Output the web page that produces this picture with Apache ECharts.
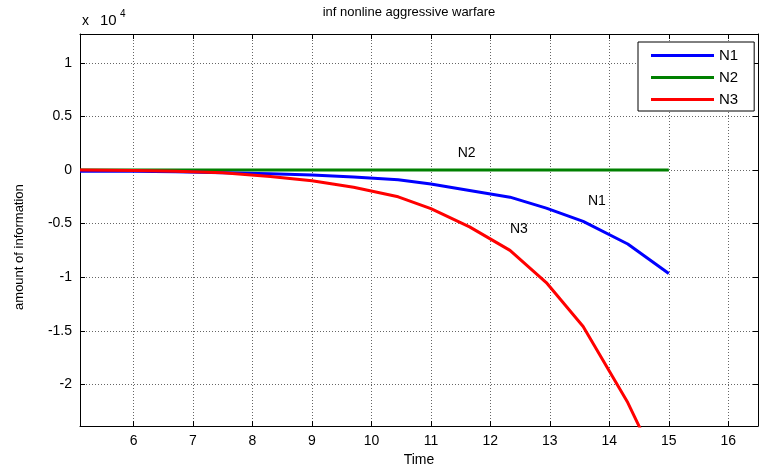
<!DOCTYPE html>
<html>
<head>
<meta charset="utf-8">
<script src="https://cdn.jsdelivr.net/npm/echarts@6/dist/echarts.min.js"></script>
<style>
  html, body { margin: 0; padding: 0; background: #fff; }
  #chart { width: 759px; height: 472px; }
</style>
</head>
<body>
<div id="chart"></div>
<script>
// time steps
const time = [5.1, 6.0, 6.7, 7.5, 8.3, 9.0, 9.7, 10.45, 11.0, 11.65, 12.33, 12.94, 13.56, 14.31, 15.0];
// amount of information
const n1 = [-120, -120, -150, -250, -350, -450, -650, -900, -1300, -1900, -2530, -3550, -4790, -6900, -9660];
const n2 = [0, 0, 0, 0, 0, 0, 0, 0, 0, 0, 0, 0, 0, 0, 0];
const n3 = [0, -50, -100, -250, -600, -1000, -1600, -2500, -3600, -5300, -7500, -10500, -14600, -21700, -29700];

const xTicks = [6, 7, 8, 9, 10, 11, 12, 13, 14, 15, 16];
const yTicks = [-20000, -15000, -10000, -5000, 0, 5000, 10000];

const FONT = 'Liberation Sans, Arial, sans-serif';

const pairs = arr => time.map((t, i) => [t, arr[i]]);

const chart = echarts.init(document.getElementById('chart'));

const frameX = pos => ({
  type: 'value',
  position: pos,
  min: 5.1,
  max: 16.5,
  axisLine: { show: true, onZero: false, lineStyle: { color: '#000', width: 1 } },
  axisTick: { show: true, inside: true, length: 5, customValues: xTicks, lineStyle: { color: '#000' } },
  axisLabel: { show: pos === 'bottom', customValues: xTicks, color: '#000', fontSize: 14, fontFamily: FONT, margin: 8 },
  splitLine: { show: pos === 'bottom', lineStyle: { color: '#666', type: [1, 2], width: 1 } }
});

const frameY = pos => ({
  type: 'value',
  position: pos,
  min: -23900,
  max: 12700,
  axisLine: { show: true, onZero: false, lineStyle: { color: '#000', width: 1 } },
  axisTick: { show: true, inside: true, length: 5, customValues: yTicks, lineStyle: { color: '#000' } },
  axisLabel: {
    show: pos === 'left', customValues: yTicks, color: '#000', fontSize: 14, fontFamily: FONT, margin: 8,
    formatter: v => String(v / 10000)
  },
  splitLine: { show: pos === 'left', lineStyle: { color: '#666', type: [1, 2], width: 1 } }
});

const yLeft = frameY('left');
yLeft.name = 'amount of information';
yLeft.nameLocation = 'middle';
yLeft.nameGap = 54;
yLeft.nameTextStyle = { color: '#000', fontSize: 13, fontFamily: FONT, padding: [0, 0, 0, -34] };

const xBottom = frameX('bottom');
xBottom.name = 'Time';
xBottom.nameLocation = 'middle';
xBottom.nameGap = 26;
xBottom.nameTextStyle = { color: '#000', fontSize: 14, fontFamily: FONT };

const lbl = (name, x, y) => ({
  coord: [x, y], symbol: 'circle', symbolSize: 0,
  label: { show: true, formatter: name, color: '#000', fontSize: 14, fontFamily: FONT, position: 'inside' }
});

const txt = (s, x, y, size) => ({
  type: 'text', x: x, y: y,
  style: { text: s, fill: '#000', font: size + 'px ' + FONT }
});

const option = {
  animation: false,
  backgroundColor: '#fff',
  grid: { left: 80, top: 34, right: 1, bottom: 43, containLabel: false },
  xAxis: [xBottom, frameX('top')],
  yAxis: [yLeft, frameY('right')],
  legend: {
    orient: 'vertical',
    left: 638,
    top: 42,
    backgroundColor: '#fff',
    borderColor: '#000',
    borderWidth: 1,
    borderRadius: 0,
    padding: [5, 16, 3, 13],
    itemGap: 5,
    itemWidth: 63,
    itemHeight: 3,
    icon: 'rect',
    textStyle: { color: '#000', fontSize: 15, fontFamily: FONT, lineHeight: 17 },
    data: ['N1', 'N2', 'N3']
  },
  graphic: [
    {
      type: 'text', x: 409, y: 6,
      style: { text: 'inf nonline aggressive warfare', fill: '#000', font: '13px ' + FONT, textAlign: 'center' }
    },
    txt('x', 82, 14, 14),
    txt('10', 100, 13, 15),
    txt('4', 120, 9, 10)
  ],
  series: [
    {
      name: 'N1', type: 'line', data: pairs(n1), showSymbol: false, smooth: false,
      color: '#0000ff', lineStyle: { width: 3, color: '#0000ff' }, z: 3,
      markPoint: { silent: true, data: [lbl('N1', 13.79, -2870)] }
    },
    {
      name: 'N2', type: 'line', data: pairs(n2), showSymbol: false, smooth: false,
      color: '#008000', lineStyle: { width: 3, color: '#008000' }, z: 2,
      markPoint: { silent: true, data: [lbl('N2', 11.6, 1570)] }
    },
    {
      name: 'N3', type: 'line', data: pairs(n3), showSymbol: false, smooth: false,
      color: '#ff0000', lineStyle: { width: 3, color: '#ff0000' }, z: 4,
      markPoint: { silent: true, data: [lbl('N3', 12.48, -5560)] }
    }
  ]
};

chart.setOption(option);
</script>
</body>
</html>
